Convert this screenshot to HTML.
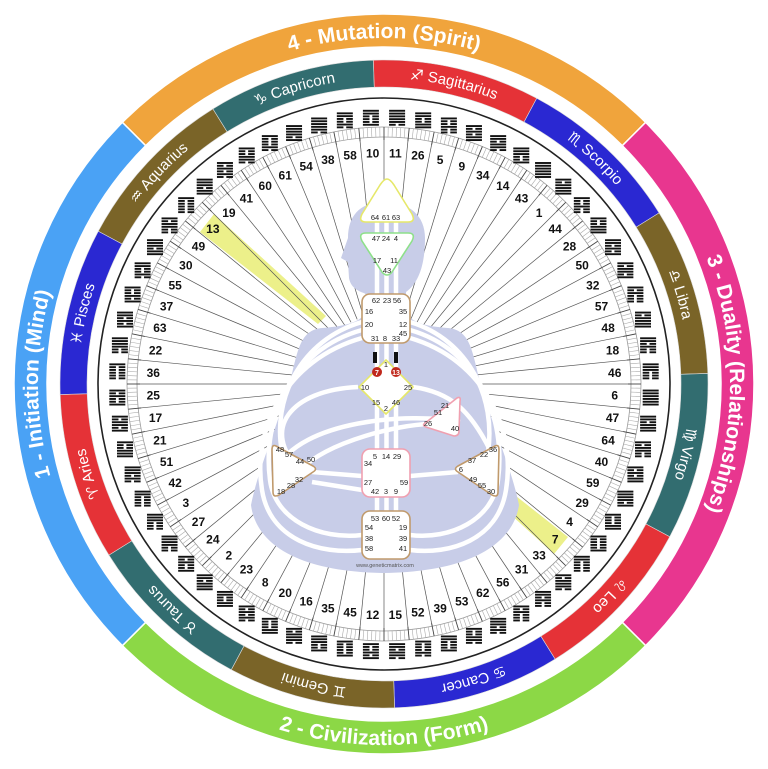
<!DOCTYPE html>
<html><head><meta charset="utf-8"><style>
html,body{margin:0;padding:0;background:#fff;}
svg{display:block;}
text{font-family:"Liberation Sans","DejaVu Sans",sans-serif;}
</style></head><body>
<svg id="s" width="768" height="769" viewBox="0 0 768 769" xmlns="http://www.w3.org/2000/svg">
<defs></defs>
<g id="g"></g>
</svg>
<script>
const NS="http://www.w3.org/2000/svg";
const cx=384,cy=384;
const G=document.getElementById('g');
const D=document.querySelector('defs');
function P(r,a){const t=a*Math.PI/180;return [(cx+r*Math.sin(t)).toFixed(2),(cy-r*Math.cos(t)).toFixed(2)];}
function el(tag,attrs,parent,txt){const e=document.createElementNS(NS,tag);for(const k in attrs)e.setAttribute(k,attrs[k]);if(txt!==undefined)e.textContent=txt;(parent||G).appendChild(e);return e;}
function sector(r1,r2,a1,a2){const l=(a2-a1)>180?1:0;const p1=P(r2,a1),p2=P(r2,a2),p3=P(r1,a2),p4=P(r1,a1);
return `M${p1} A${r2} ${r2} 0 ${l} 1 ${p2} L${p3} A${r1} ${r1} 0 ${l} 0 ${p4}Z`;}
function arc(r,a1,a2,cw){const l=(a2-a1)>180?1:0;if(cw)return `M${P(r,a1)} A${r} ${r} 0 ${l} 1 ${P(r,a2)}`;return `M${P(r,a2)} A${r} ${r} 0 ${l} 0 ${P(r,a1)}`;}
let pid=0;
function arcText(r,a1,a2,cw,str,size,weight,fill){const id='p'+(pid++);el('path',{id:id,d:arc(r,a1,a2,cw),fill:'none'},D);
const t=el('text',{'font-size':size,'font-weight':weight,fill:fill,'text-anchor':'middle'});const tp=el('textPath',{href:'#'+id,startOffset:'50%'},t,str);}

// Quadrants
const quads=[[-45,45,'#f0a43c','4 - Mutation (Spirit)',true],[45,135,'#e8368f','3 - Duality (Relationships)',true],[135,225,'#8cd846','2 - Civilization (Form)',false],[225,315,'#4aa2f5','1 - Initiation (Mind)',true]];
quads.forEach(q=>{el('path',{d:sector(337,370,q[0],q[1]),fill:q[2],stroke:'#fff','stroke-width':1.5});});
quads.forEach(q=>{arcText(q[4]?346:361,q[0],q[1],q[4],q[3],21,'bold','#fff');});

// Zodiac
const zod=[['♒','Aquarius','#7a6428'],['♑','Capricorn','#326d70'],['♐','Sagittarius','#e53237'],['♏','Scorpio','#2a28d2'],['♎','Libra','#7a6428'],['♍','Virgo','#326d70'],['♌','Leo','#e53237'],['♋','Cancer','#2a28d2'],['♊','Gemini','#7a6428'],['♉','Taurus','#326d70'],['♈','Aries','#e53237'],['♓','Pisces','#2a28d2']];
zod.forEach((z,i)=>{const a1=-61.875+i*30,a2=a1+30;el('path',{d:sector(297,324,a1,a2),fill:z[2],stroke:'#ddd','stroke-width':0.6});});
zod.forEach((z,i)=>{const a1=-61.875+i*30,a2=a1+30;arcText(305.5,a1,a2,true,z[0]+'  '+z[1],15,'normal','#fff');});

// black circle
el('circle',{cx:cx,cy:cy,r:286,fill:'#fff',stroke:'#222','stroke-width':1.6});

// gate order (counterclockwise)
const gates=[41,19,13,49,30,55,37,63,22,36,25,17,21,51,42,3,27,24,2,23,8,20,16,35,45,12,15,52,39,53,62,56,31,33,7,4,29,59,40,64,47,6,46,18,48,57,32,50,28,44,1,43,14,34,9,5,26,11,10,58,38,54,61,60];
function gAng(k){return 2.8125+(57-k)*5.625;}

// yellow bands
el('polygon',{points:'200,232 214,214 326,316 318,324',fill:'#ecf08a'});
el('polygon',{points:'568,537 554,554 442,452 450,444',fill:'#ecf08a'});

// radial lines
for(let i=0;i<64;i++){const a=i*5.625;const p1=P(247,a),p2=P(70,a);el('line',{x1:p1[0],y1:p1[1],x2:p2[0],y2:p2[1],stroke:'#555','stroke-width':0.7});}

// ruler
el('circle',{cx:cx,cy:cy,r:257,fill:'none',stroke:'#999','stroke-width':0.8});
el('circle',{cx:cx,cy:cy,r:247,fill:'none',stroke:'#999','stroke-width':0.8});
for(let i=0;i<384;i++){const a=i*5.625/6;const maj=i%6===0;const p1=P(maj?244:247,a),p2=P(257,a);el('line',{x1:p1[0],y1:p1[1],x2:p2[0],y2:p2[1],stroke:maj?'#444':'#aaa','stroke-width':maj?0.9:0.6});}

// numbers and hexagrams
gates.forEach((g,k)=>{const a=gAng(k);const p=P(231,a);
el('text',{x:p[0],y:(+p[1]+4.2).toFixed(2),'font-size':12,'font-weight':'bold',fill:'#111','text-anchor':'middle'},G,String(g));
const h=P(267,a);const hx=+h[0]-8,hy=+h[1]-7.5;
let bits=(g*41+g*g*7+13)%64;
for(let j=0;j<6;j++){const y=hy+j*2.8;const yang=(bits>>j)&1;
if(yang)el('rect',{x:hx,y:y,width:16,height:1.9,fill:'#111'});else{el('rect',{x:hx,y:y,width:6.6,height:1.9,fill:'#111'});el('rect',{x:hx+9.4,y:y,width:6.6,height:1.9,fill:'#111'});}}
});

// body silhouette
el('path',{d:'M384,202 C360,202 348,216 348,238 L341,258 L348,262 L349,278 C351,290 362,292 366,294 L366,308 C366,320 350,326 322,328 C300,330 298,350 290,382 C276,430 258,470 251,505 C256,545 300,572 384,573 C468,572 513,545 519,505 C512,470 494,430 480,382 C472,350 470,330 448,328 C420,326 406,320 406,308 L406,292 C420,282 425,262 425,238 C425,216 410,202 384,202Z',fill:'#c8cde8'});

// channels (white)
const W={fill:'none',stroke:'#fff','stroke-width':4.5};
[377,386.5,396].forEach(x=>el('line',Object.assign({x1:x,y1:215,x2:x,y2:540},W)));
el('path',Object.assign({d:'M362,322 C300,340 272,400 282,452'},W));
el('path',Object.assign({d:'M362,330 C290,350 262,420 270,480 C275,520 320,540 362,535'},W));
el('path',Object.assign({d:'M362,338 C285,360 252,430 262,490 C270,540 320,555 362,550'},W));
el('path',Object.assign({d:'M410,322 C470,340 496,400 488,452'},W));
el('path',Object.assign({d:'M410,330 C480,350 506,420 498,480 C493,520 450,540 410,535'},W));
el('path',Object.assign({d:'M410,338 C485,360 516,430 506,490 C498,540 450,555 410,550'},W));
el('path',Object.assign({d:'M358,387 C290,390 260,430 300,470'},W));
el('path',Object.assign({d:'M413,387 C450,392 470,410 490,450'},W));
el('path',Object.assign({d:'M276,470 C300,420 410,412 460,422'},W));
el('path',Object.assign({d:'M300,470 C330,440 400,425 428,424'},W));
el('line',Object.assign({x1:312,y1:472,x2:362,y2:476},W));
el('line',Object.assign({x1:410,y1:476,x2:458,y2:472},W));
el('line',Object.assign({x1:312,y1:482,x2:362,y2:490},W));

// centers
const S={fill:'#fff','stroke-width':1.6,'stroke-linejoin':'round'};
el('path',Object.assign({d:'M387,179 Q384,179 380,185 L362,214 Q358,222 366,222 L408,222 Q416,222 412,214 L394,185 Q390,179 387,179Z',stroke:'#e6e86a'},S));
el('path',Object.assign({d:'M366,233 L408,233 Q416,233 412,241 L392,272 Q387,278 382,272 L362,241 Q358,233 366,233Z',stroke:'#8ee08a'},S));
el('rect',Object.assign({x:362,y:294,width:48,height:49,rx:8,stroke:'#c09a6c'},S));
el('path',Object.assign({d:'M386,360 L413,387 L386,414 L359,387Z',stroke:'#e6e86a','stroke-linejoin':'round'},S));
el('path',Object.assign({d:'M424,424 L457,398 Q461,396 460,401 L459,431 Q459,436 454,436 L429,428 Q422,426 424,424Z',stroke:'#f0a0b0'},S));
el('path',Object.assign({d:'M276,446 L313,466 Q318,469 313,472 L279,495 Q273,498 273,492 L272,450 Q272,444 276,446Z',stroke:'#c09a6c'},S));
el('path',Object.assign({d:'M495,446 L458,466 Q453,469 458,472 L492,495 Q498,498 498,492 L499,450 Q499,444 495,446Z',stroke:'#c09a6c'},S));
el('rect',Object.assign({x:362,y:449,width:48,height:48,rx:8,stroke:'#f0a0b0'},S));
el('rect',Object.assign({x:362,y:511,width:48,height:48,rx:8,stroke:'#c09a6c'},S));

// red dots and black bars
el('rect',{x:373,y:352,width:4,height:11,fill:'#111'});
el('rect',{x:394,y:352,width:4,height:11,fill:'#111'});
el('circle',{cx:377,cy:372,r:5,fill:'#c0281c'});
el('circle',{cx:396,cy:372,r:5,fill:'#c0281c'});
el('text',{x:377,y:375,'font-size':7,'font-weight':'bold',fill:'#fff','text-anchor':'middle'},G,'7');
el('text',{x:396,y:375,'font-size':7,'font-weight':'bold',fill:'#fff','text-anchor':'middle'},G,'13');

const L=[[64,375,217],[61,386,217],[63,396,217],[47,376,238],[24,386,238],[4,396,238],[17,377,260],[11,394,260],[43,387,270],
[62,376,300],[23,387,300],[56,397,300],[16,369,311],[35,403,311],[20,369,324],[12,403,324],[45,403,333],[31,375,338],[8,385,338],[33,396,338],
[1,386,364],[10,365,387],[25,408,387],[15,376,402],[46,396,402],[2,386,408],
[21,445,405],[51,438,412],[26,428,423],[40,455,428],
[48,280,449],[57,289,454],[44,300,461],[50,311,459],[32,299,479],[28,291,485],[18,281,491],
[36,493,449],[22,484,454],[37,472,460],[6,461,469],[49,473,479],[55,482,485],[30,491,491],
[5,375,456],[14,386,456],[29,397,456],[34,368,463],[27,368,482],[59,404,482],[42,375,491],[3,386,491],[9,396,491],
[53,375,518],[60,386,518],[52,396,518],[54,369,527],[19,403,527],[38,369,538],[39,403,538],[58,369,548],[41,403,548]];
L.forEach(l=>el('text',{x:l[1],y:l[2]+2.8,'font-size':7.5,fill:'#222','text-anchor':'middle'},G,String(l[0])));
el('text',{x:385,y:567,'font-size':5.5,fill:'#555','text-anchor':'middle'},G,'www.geneticmatrix.com');
</script>
</body></html>
